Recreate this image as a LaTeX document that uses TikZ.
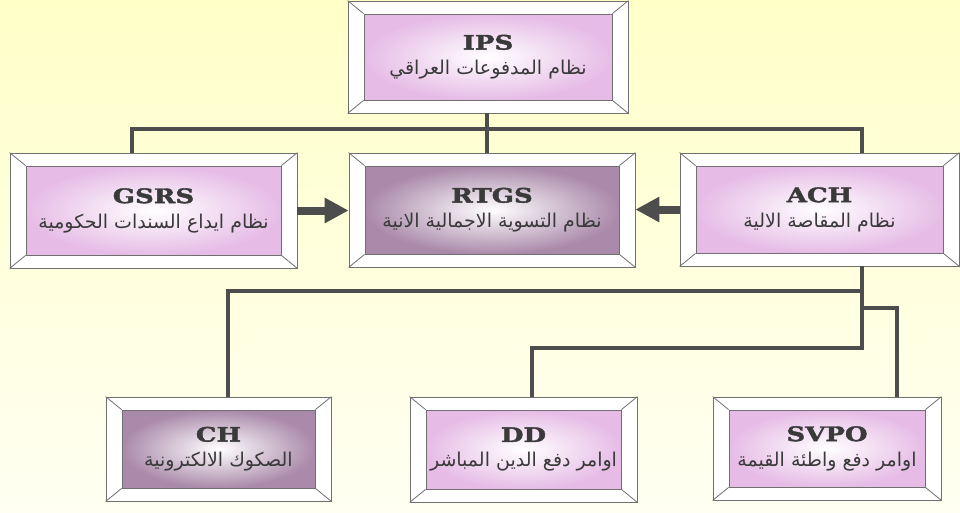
\documentclass[tikz,border=0pt]{standalone}
\usepackage{fontspec}
\usetikzlibrary{arrows.meta}
\TeXXeTstate=1
\newfontfamily\arabicfont[Script=Arabic]{DejaVu Sans}
\newfontfamily\headfont[FakeStretch=1.3,FakeBold=2]{DejaVu Serif}
\definecolor{linegray}{HTML}{4D4D4D}
\definecolor{framegray}{HTML}{707070}
\definecolor{textgray}{HTML}{3A3A3A}
\definecolor{pinkbox}{RGB}{230,188,230}
\definecolor{mauvebox}{RGB}{170,138,170}
\definecolor{bgtop}{RGB}{255,255,200}
\definecolor{bgbot}{RGB}{255,255,242}

\begin{document}
\begin{tikzpicture}[x=1pt, y=-1pt,
  frame/.style={draw=framegray, fill=white, line width=0.8pt, inner sep=0pt},
  face/.style={draw=framegray, line width=0.8pt, inner sep=0pt, align=center,
    text=textgray, font=\fontsize{19}{25}\selectfont},
  link/.style={draw=linegray, line width=4pt},
  flow/.style={draw=linegray, line width=8pt, -{Triangle[length=24pt,width=24pt]}}]
  \useasboundingbox (0,0) rectangle (960,512);
  \fill[top color=bgtop, bottom color=bgbot] (0,0) rectangle (960,512);
  \foreach \n/\x/\y/\w/\h/\s/\t/\a in {
    ips/488/57/280/112/pinkbox/IPS/نظام المدفوعات العراقي,
    gsrs/153.5/210.5/287/115/pinkbox/GSRS/نظام ايداع السندات الحكومية,
    rtgs/492/210/286/114/mauvebox/RTGS/نظام التسوية الاجمالية الانية,
    ach/819.5/209.5/279/113/pinkbox/ACH/نظام المقاصة الالية,
    ch/218.5/449/225/104/mauvebox/CH/الصكوك الالكترونية,
    dd/523.5/449.5/227/105/pinkbox/DD/اوامر دفع الدين المباشر,
    svpo/827/448.5/228/103/pinkbox/SVPO/اوامر دفع واطئة القيمة}{
    \node[frame, minimum width=\w, minimum height=\h] (\n) at (\x,\y) {};
    \node[face, inner color=white, outer color=\s, minimum width=\w-32,
      minimum height=\h-26] (\n-in) at (\n)
      {{\headfont\bfseries\fontsize{20}{22}\selectfont\t}\\
       {\arabicfont\beginR\a\endR}};
    \foreach \c in {north west, north east, south west, south east}
      \draw[framegray, line width=0.8pt] (\n.\c) -- (\n-in.\c);
  }
  \coordinate (top bus) at (487,129);
  \coordinate (gsrs tap) at (132,129);
  \coordinate (ach tap) at (862,129);
  \draw[link] (ips.south -| top bus) -- (rtgs.north -| top bus);
  \draw[link] (gsrs.north -| gsrs tap) -- (gsrs tap) -- (ach tap)
    -- (ach.north -| ach tap);
  \coordinate (spine) at (862,348);
  \coordinate (ch tap) at (228,291);
  \coordinate (svpo tap) at (897,308);
  \coordinate (dd tap) at (532,348);
  \draw[link] (ach.south -| spine) -- (spine) -| (dd.north -| dd tap);
  \draw[link] (spine |- ch tap) -| (ch.north -| ch tap);
  \draw[link] (spine |- svpo tap) -| (svpo.north -| svpo tap);
  \draw[flow] (gsrs.east) -- (gsrs.east -| rtgs.west);
  \draw[flow] (ach.west) -- (ach.west -| rtgs.east);
\end{tikzpicture}
\end{document}
